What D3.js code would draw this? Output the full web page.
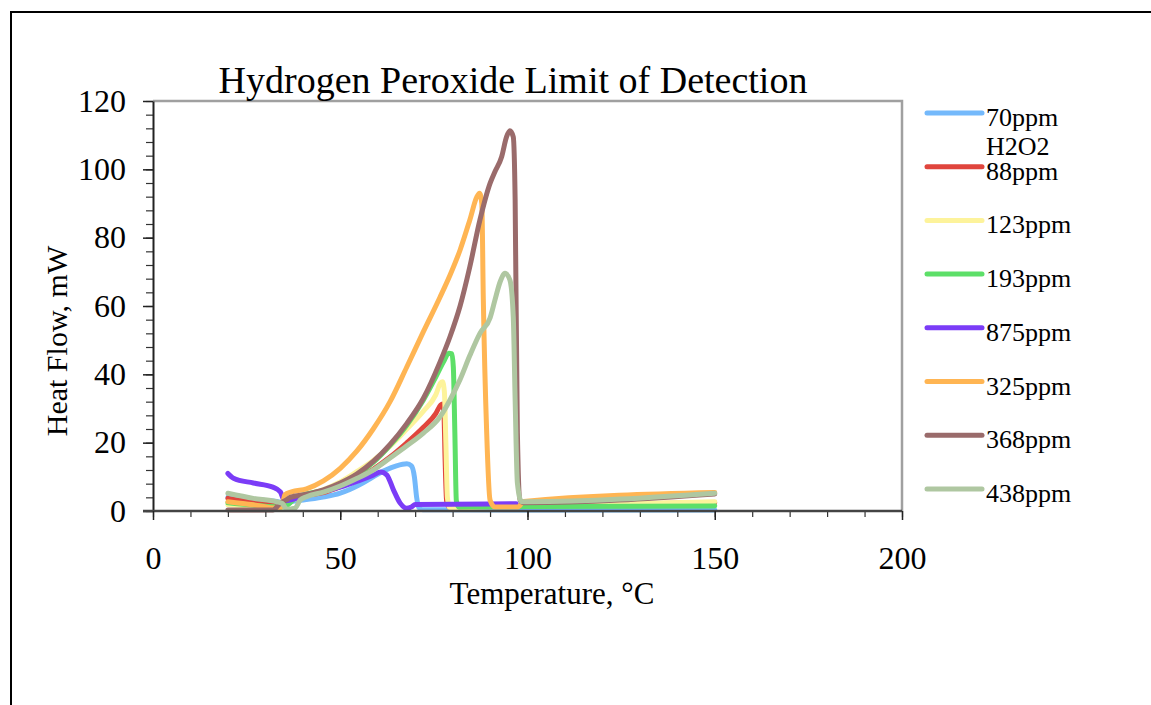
<!DOCTYPE html>
<html>
<head>
<meta charset="utf-8">
<script src="https://cdn.jsdelivr.net/npm/d3@7"></script>
<style>
  html, body { margin: 0; padding: 0; background: #fff; }
  svg text { font-family: "Liberation Serif", "Times New Roman", serif; fill: #000; }
</style>
</head>
<body>
<svg id="chart" width="1151" height="705"></svg>
<script>
// series labels and colours, in legend order (later ones drawn on top)
const seriesLabels = ["70ppm H2O2", "88ppm", "123ppm", "193ppm", "875ppm", "325ppm", "368ppm", "438ppm"];
const seriesColors = ["#74b9fb", "#e0453d", "#fdf39b", "#5ddf68", "#7b3cf7", "#ffb553", "#9a6b6b", "#afc7a1"];

// [temperature °C, heat flow mW]
const ppm70 = [[20,4.0],[25,3.6],[30,3.1],[33,2.8],[35,2.3],[37,2.8],[40,3.2],[45,4.0],[50,5.2],[55,7.6],[58.8,10],[62,11.9],[65,13.2],[67.8,13.8],[69,13.2],[69.8,10],[70.4,4],[71,1],[72,0.4],[100,0.3],[150,0.3]];
const ppm88 = [[20,3.7],[25,2.8],[30,2.0],[33,1.6],[35,2.6],[37,3.6],[41,4.6],[45.5,5.4],[50,7.1],[54.4,9.3],[58.8,12.2],[63.3,15.8],[67.7,19.9],[72.2,24.5],[75.5,28.5],[76.8,31],[77.3,31.3],[77.7,28],[78,15],[78.4,3],[79,1.2],[100,1.6],[150,2.4]];
const ppm123 = [[20,1.8],[25,1.5],[30,1.2],[34,1.0],[36,2.6],[41,4.8],[45.5,6.3],[50,8.5],[54.4,11.5],[58.8,14.8],[63.3,19],[67.7,23.9],[72.2,29.2],[75.5,34],[76.8,37.5],[77.3,37.8],[77.8,35],[78.2,20],[78.6,4],[79.2,1.0],[100,1.6],[150,2.7]];
const ppm193 = [[20,2.4],[25,1.9],[30,1.4],[34,1.1],[36,1.8],[38,3.8],[41,5.0],[45.5,6.0],[50,7.9],[54.4,10.5],[58.8,14.2],[63.3,19.2],[67.7,25],[72.2,32.5],[75.5,39.2],[77.5,43.5],[79,46.2],[79.8,46],[80.2,42],[80.6,23],[81,3],[81.6,1.2],[100,1.3],[150,1.5]];
const ppm875 = [[20,11],[21.5,9.6],[26.8,8.2],[32,7.0],[34,5.6],[34.8,3.5],[35.5,3.0],[38,3.6],[41,4.6],[45,5.6],[50,7.0],[55,8.9],[58.8,10.5],[60.8,11.4],[62.4,10.6],[64.2,6.2],[66,2.3],[67.7,0.8],[69,1.2],[70,1.9],[80,2.0],[97,2.1]];
const ppm325 = [[20,2.7],[26.8,1.8],[33,0.8],[34.4,1.3],[35.2,4.7],[37,5.6],[41,6.5],[45.5,8.8],[50,12.5],[54.4,17.5],[58.8,24],[63.3,32],[67.7,42],[72.2,52.5],[76.6,62.5],[79.3,69],[82,76.4],[84.6,85.2],[86.5,92],[87.2,93],[87.8,90],[88.2,62],[89.1,23],[90,3.2],[91.3,1.2],[97.5,1.2],[99,2.8],[150,5.4]];
const ppm368 = [[20,0.3],[32,0.3],[34,2.3],[35.7,3.3],[36.6,4.0],[41,4.9],[45.5,6.2],[50,8.2],[54.4,10.8],[58.8,14.5],[63.3,19.5],[67.7,25.5],[72.2,33],[76.6,43.5],[79.3,51],[82,60],[84.6,71.5],[87.3,85.2],[90,95.9],[91.3,99.3],[93.1,103.7],[94.4,109.5],[95.3,111.3],[96.2,109.5],[96.7,91],[97.3,22.8],[98,3.2],[99,2.4],[150,5.0]];
const ppm438 = [[20,5.2],[26.8,3.7],[33,2.7],[34.5,2.2],[35.7,0.5],[37.9,0.8],[39.3,3.2],[41,4.2],[45.5,5.5],[50,7.3],[54.4,9.5],[58.8,12],[63.3,15.5],[67.7,19],[72.2,22.8],[76.6,27.5],[79.3,32.5],[82,38.5],[84.6,45.5],[87.3,52],[90,56.5],[91.3,61.7],[92.7,67.1],[94,69.6],[95.3,67.6],[96.2,56.9],[96.7,32.5],[97.3,8.2],[98.4,2.7],[100,2.7],[150,5.2]];

const allSeries = [ppm70, ppm88, ppm123, ppm193, ppm875, ppm325, ppm368, ppm438];

const xMajorTicks = [0, 50, 100, 150, 200];
const yMajorTicks = [0, 20, 40, 60, 80, 100, 120];

const svg = d3.select("#chart");

const plotLeft = 153, plotRight = 902, plotTop = 101, plotBottom = 511;
const serif = "'Liberation Serif', 'Times New Roman', serif";

const x = d3.scaleLinear().domain([0, 200]).range([plotLeft, plotRight]);
const y = d3.scaleLinear().domain([0, 120]).range([plotBottom, plotTop]);

// outer frame (runs off the picture on right and bottom)
svg.append("rect")
    .attr("x", 11).attr("y", 12)
    .attr("width", 1300).attr("height", 900)
    .attr("fill", "none")
    .attr("stroke", "#000")
    .attr("stroke-width", 2);

// grey plot frame top + right
svg.append("path")
    .attr("d", `M${plotLeft},${plotTop}H${plotRight}V${plotBottom}`)
    .attr("fill", "none")
    .attr("stroke", "#a0a0a0")
    .attr("stroke-width", 2.5);

// series
const line = d3.line()
    .x(d => x(d[0]))
    .y(d => y(d[1]))
    .curve(d3.curveMonotoneX);

svg.append("g")
    .selectAll("path")
    .data(allSeries)
    .join("path")
    .attr("fill", "none")
    .attr("stroke", (d, i) => seriesColors[i])
    .attr("stroke-width", 5)
    .attr("stroke-linejoin", "round")
    .attr("stroke-linecap", "round")
    .attr("d", d => line(d));

// y axis
const yMinor = svg.append("g")
    .attr("transform", `translate(${plotLeft},0)`)
    .call(d3.axisLeft(y).tickValues(d3.range(0, 121, 4)).tickSize(7).tickSizeOuter(0).tickFormat(""));
yMinor.select(".domain").remove();
yMinor.selectAll("line").attr("stroke", "#333").attr("stroke-width", 1.2);

const yAxis = svg.append("g")
    .attr("transform", `translate(${plotLeft},0)`)
    .call(d3.axisLeft(y).tickValues(yMajorTicks).tickSize(10).tickSizeOuter(0).tickPadding(17));
yAxis.select(".domain").attr("stroke", "#222").attr("stroke-width", 2);
yAxis.selectAll("line").attr("stroke", "#222").attr("stroke-width", 1.5);
yAxis.selectAll("text").style("font-family", serif).style("font-size", "32px");

// x axis
const xMinor = svg.append("g")
    .attr("transform", `translate(0,${plotBottom})`)
    .call(d3.axisBottom(x).tickValues(d3.range(0, 201, 10)).tickSize(6).tickSizeOuter(0).tickFormat(""));
xMinor.select(".domain").remove();
xMinor.selectAll("line").attr("stroke", "#333").attr("stroke-width", 1.2);

const xAxis = svg.append("g")
    .attr("transform", `translate(0,${plotBottom})`)
    .call(d3.axisBottom(x).tickValues(xMajorTicks).tickSize(9).tickSizeOuter(0).tickPadding(26));
xAxis.select(".domain").attr("stroke", "#444").attr("stroke-width", 2.5)
    .attr("d", `M${plotLeft - 10},0H${plotRight}`);
xAxis.selectAll("line").attr("stroke", "#222").attr("stroke-width", 1.5);
xAxis.selectAll("text").style("font-family", serif).style("font-size", "32px");

// title and axis titles
svg.append("text")
    .attr("x", 513).attr("y", 93)
    .attr("text-anchor", "middle")
    .attr("font-size", "38px")
    .text("Hydrogen Peroxide Limit of Detection");

svg.append("text")
    .attr("x", 552).attr("y", 604)
    .attr("text-anchor", "middle")
    .attr("font-size", "31px")
    .text("Temperature, °C");

svg.append("text")
    .attr("transform", "translate(67,341) rotate(-90)")
    .attr("text-anchor", "middle")
    .attr("font-size", "30px")
    .text("Heat Flow, mW");

// legend
const legend = svg.append("g").attr("transform", "translate(927,113)");
const item = legend.selectAll("g")
    .data(seriesLabels)
    .join("g")
    .attr("transform", (d, i) => `translate(0,${i * 53.7})`);

item.append("line")
    .attr("x1", 0).attr("x2", 55)
    .attr("stroke", (d, i) => seriesColors[i])
    .attr("stroke-width", 5)
    .attr("stroke-linecap", "round");

item.append("text")
    .attr("x", 59).attr("y", 13)
    .attr("font-size", "26px")
    .each(function (d) {
        const parts = d.split(" ");
        d3.select(this).selectAll("tspan")
            .data(parts)
            .join("tspan")
            .attr("x", 59)
            .attr("dy", (p, j) => j === 0 ? 0 : 29)
            .text(p => p);
    });
</script>
</body>
</html>
